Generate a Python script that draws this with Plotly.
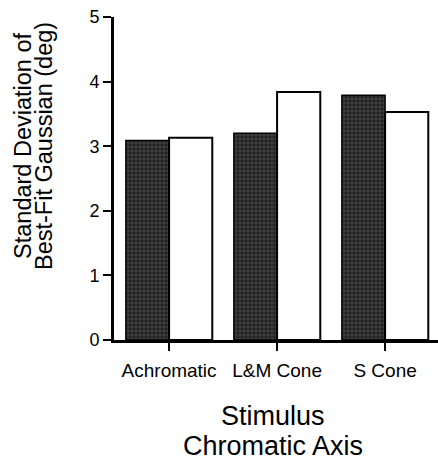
import plotly.graph_objects as go

categories = ["Achromatic", "L&M Cone", "S Cone"]
series_dark = [3.09, 3.20, 3.79]
series_white = [3.13, 3.84, 3.53]
y_ticks = [0, 1, 2, 3, 4, 5]
x_title_lines = ["Stimulus", "Chromatic Axis"]
y_title_lines = ["Standard Deviation of", "Best-Fit Gaussian (deg)"]

font = "Liberation Sans, Arial, Helvetica, sans-serif"

fig = go.Figure()
fig.add_trace(go.Bar(
    x=categories, y=series_dark, name="dark",
    marker=dict(color="#2a2a2a",
                pattern=dict(shape="+", fgcolor="#9a9a9a", bgcolor="#222222", size=4, solidity=0.25),
                line=dict(color="black", width=1.5)),
))
fig.add_trace(go.Bar(
    x=categories, y=series_white, name="white",
    marker=dict(color="white", line=dict(color="black", width=2)),
))

annotations = []
for txt, yp in zip(x_title_lines, [-0.2353, -0.3282]):
    annotations.append(dict(text=txt, xref="paper", yref="paper", x=0.491, y=yp,
                            xanchor="center", yanchor="middle", showarrow=False,
                            font=dict(size=27, family=font, color="black")))
for txt, xp in zip(y_title_lines, [-0.281, -0.216]):
    annotations.append(dict(text=txt, xref="paper", yref="paper", x=xp, y=0.6006,
                            xanchor="center", yanchor="middle", showarrow=False, textangle=-90,
                            font=dict(size=23.5, family=font, color="black")))

fig.update_layout(
    width=438, height=463,
    margin=dict(l=114, r=0, t=17, b=123),
    paper_bgcolor="white", plot_bgcolor="white",
    showlegend=False,
    barmode="group", bargap=0.2, bargroupgap=0,
    font=dict(family=font, color="black"),
    annotations=annotations,
    xaxis=dict(
        range=[-0.51, 2.49],
        showline=True, linecolor="black", linewidth=2.5,
        ticks="outside", ticklen=8, tickwidth=1.5, tickcolor="black",
        tickfont=dict(size=19), ticklabelstandoff=3,
        showgrid=False, zeroline=False,
    ),
    yaxis=dict(
        range=[0, 5], tickvals=y_ticks,
        showline=True, linecolor="black", linewidth=3,
        ticks="outside", ticklen=8, tickwidth=1.5, tickcolor="black",
        tickfont=dict(size=18),
        showgrid=False, zeroline=False,
    ),
)

fig.write_html("out.html")
